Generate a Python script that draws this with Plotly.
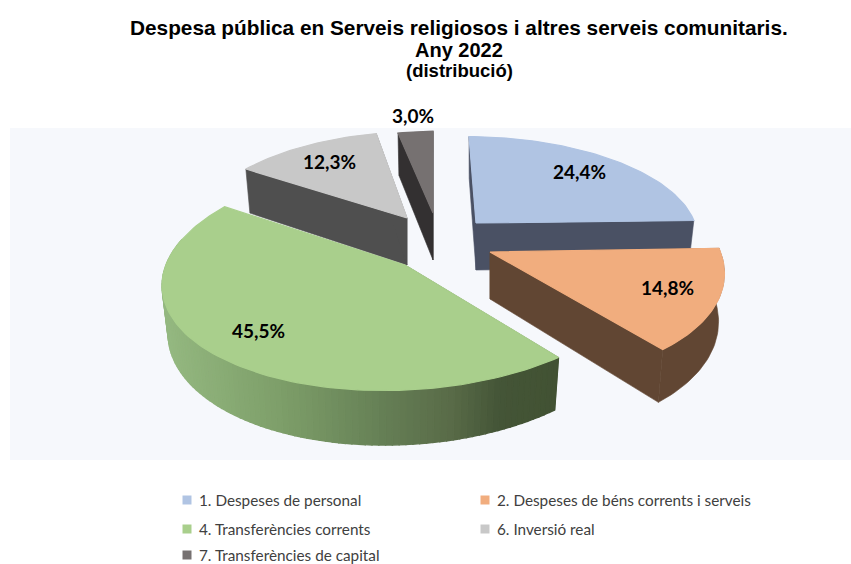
import math
import plotly.graph_objects as go

# ---- data ----
categories = ["1. Despeses de personal", "2. Despeses de béns corrents i serveis",
              "4. Transferències corrents", "6. Inversió real", "7. Transferències de capital"]
values = [24.4, 14.8, 45.5, 12.3, 3.0]

# ---- style ----
top_colors = ["#B0C4E3", "#F1AD7E", "#A9CF8C", "#C8C8C8", "#767171"]
wall_colors = ["#4A5164", "#614633", None, "#4F4F4F", "#333031"]
legend_colors = ["#B0C4E3", "#F1AD7E", "#A9CF8C", "#C8C8C8", "#767171"]
green_stops = [(165, "#94B880"), (280, "#7D9E69"), (383, "#657F55"),
               (450, "#596B48"), (500, "#445537"), (558, "#425233")]

# per-slice projection of the exploded 3D pie (apex x, apex y, A, B, shear, tilt)
geom = [(476, 223, 220, 95, 0.0, 0.02),
        (490, 252, 232, 115, 0.09, 0.02),
        (405, 265, 239, 113, -0.17, 0.0),
        (407, 218, 211, 95, -0.14, 0.0),
        (433, 213, 205, 90, -0.08, 0.0)]
START_ANGLE = -2.0
PERSP = 0.10
WALL_H = 47
RX, RY = 0.975, 1.06
draw_order = [3, 4, 0, 2, 1]
label_pos = [(579, 171), (667, 287), (258, 330), (329, 161), (413, 115)]
legend_pos = [(183, 500), (481, 500), (183, 529), (481, 529), (183, 555)]


def hex2rgb(h):
    return tuple(int(h[i:i + 2], 16) for i in (1, 3, 5))


def green_at(x):
    if x <= green_stops[0][0]:
        return green_stops[0][1]
    for (x0, c0), (x1, c1) in zip(green_stops, green_stops[1:]):
        if x <= x1:
            t = (x - x0) / (x1 - x0)
            a, b = hex2rgb(c0), hex2rgb(c1)
            return "rgb(%d,%d,%d)" % tuple(round(p + (q - p) * t) for p, q in zip(a, b))
    return green_stops[-1][1]


def arc(i, a0, a1):
    ax, ay, A, B, K, T = geom[i]
    n = max(2, int((a1 - a0) / 1.5))
    top, low = [], []
    for j in range(n + 1):
        phi = math.radians(a0 + (a1 - a0) * j / n)
        s = 1 / (1 + PERSP * math.cos(phi))
        dy0 = -B * math.cos(phi) * s
        dx = A * math.sin(phi) * s + K * dy0
        dy = dy0 + T * dx
        top.append((ax + dx, ay + dy))
        low.append((ax + dx * RX, ay + WALL_H + dy * RY))
    return top, low


def poly(pts, color, width=0.6):
    xs = [p[0] for p in pts] + [pts[0][0]]
    ys = [p[1] for p in pts] + [pts[0][1]]
    return go.Scatter(x=xs, y=ys, mode="lines", fill="toself", fillcolor=color,
                      line=dict(color=color, width=width), hoverinfo="skip", showlegend=False)


fig = go.Figure()
total = sum(values)
angles = [START_ANGLE]
for v in values:
    angles.append(angles[-1] + 360 * v / total)

for i in draw_order:
    ax, ay = geom[i][:2]
    a0, a1 = angles[i], angles[i + 1]
    top, low = arc(i, a0, a1)
    apex_t, apex_b = (ax, ay), (ax, ay + WALL_H)
    wc = wall_colors[i]
    if wc is None:
        fig.add_trace(poly([apex_t, top[0], low[0], apex_b], green_stops[-1][1]))
        for k in range(len(top) - 1):
            frac = a0 + (a1 - a0) * k / (len(top) - 1)
            if frac > 282:
                continue
            xm = (top[k][0] + top[k + 1][0]) / 2
            fig.add_trace(poly([top[k], top[k + 1], low[k + 1], low[k]], green_at(xm), 1.4))
    else:
        fig.add_trace(poly([apex_t, top[0], low[0], apex_b], wc))
        fig.add_trace(poly([apex_t, top[-1], low[-1], apex_b], wc))
        if a0 < 180 < a1 or 90 < a1 < 270:
            fig.add_trace(poly(top + low[::-1], wc))
    fig.add_trace(poly([apex_t] + top, top_colors[i], 1.2))

# legend squares
fig.add_trace(go.Scatter(x=[p[0] + 4 for p in legend_pos], y=[p[1] for p in legend_pos],
                         mode="markers", hoverinfo="skip", showlegend=False,
                         marker=dict(symbol="square", size=9, color=legend_colors)))

annotations = []
for v, (x, y) in zip(values, label_pos):
    annotations.append(dict(x=x, y=y, xref="x", yref="y", showarrow=False,
                            text="<b>%s%%</b>" % f"{v:.1f}".replace(".", ","),
                            font=dict(family="Lato", size=19, color="#000000")))
for c, (x, y) in zip(categories, legend_pos):
    annotations.append(dict(x=x + 14, y=y, xref="x", yref="y", showarrow=False,
                            xanchor="left", text=c,
                            font=dict(family="Lato", size=15.3, color="#404040")))
for txt, y, size in [("Despesa pública en Serveis religiosos i altres serveis comunitaris.", 27, 20.8),
                     ("Any 2022", 50, 20), ("(distribució)", 70, 18.5)]:
    annotations.append(dict(x=459, y=y, xref="x", yref="y", showarrow=False,
                            text="<b>%s</b>" % txt,
                            font=dict(family="Liberation Sans", size=size, color="#000000")))

fig.update_layout(
    width=851, height=564, autosize=False,
    margin=dict(l=0, r=0, t=0, b=0),
    paper_bgcolor="#FFFFFF", plot_bgcolor="#FFFFFF",
    showlegend=False,
    xaxis=dict(range=[0, 851], visible=False, fixedrange=True),
    yaxis=dict(range=[564, 0], visible=False, fixedrange=True),
    shapes=[dict(type="rect", xref="x", yref="y", x0=10, x1=851, y0=128, y1=460,
                 fillcolor="#F6F8FC", line=dict(width=0), layer="below")],
    annotations=annotations,
)
fig.write_html("out.html", config={"displayModeBar": False},
               post_script="document.body.style.margin='0';")
